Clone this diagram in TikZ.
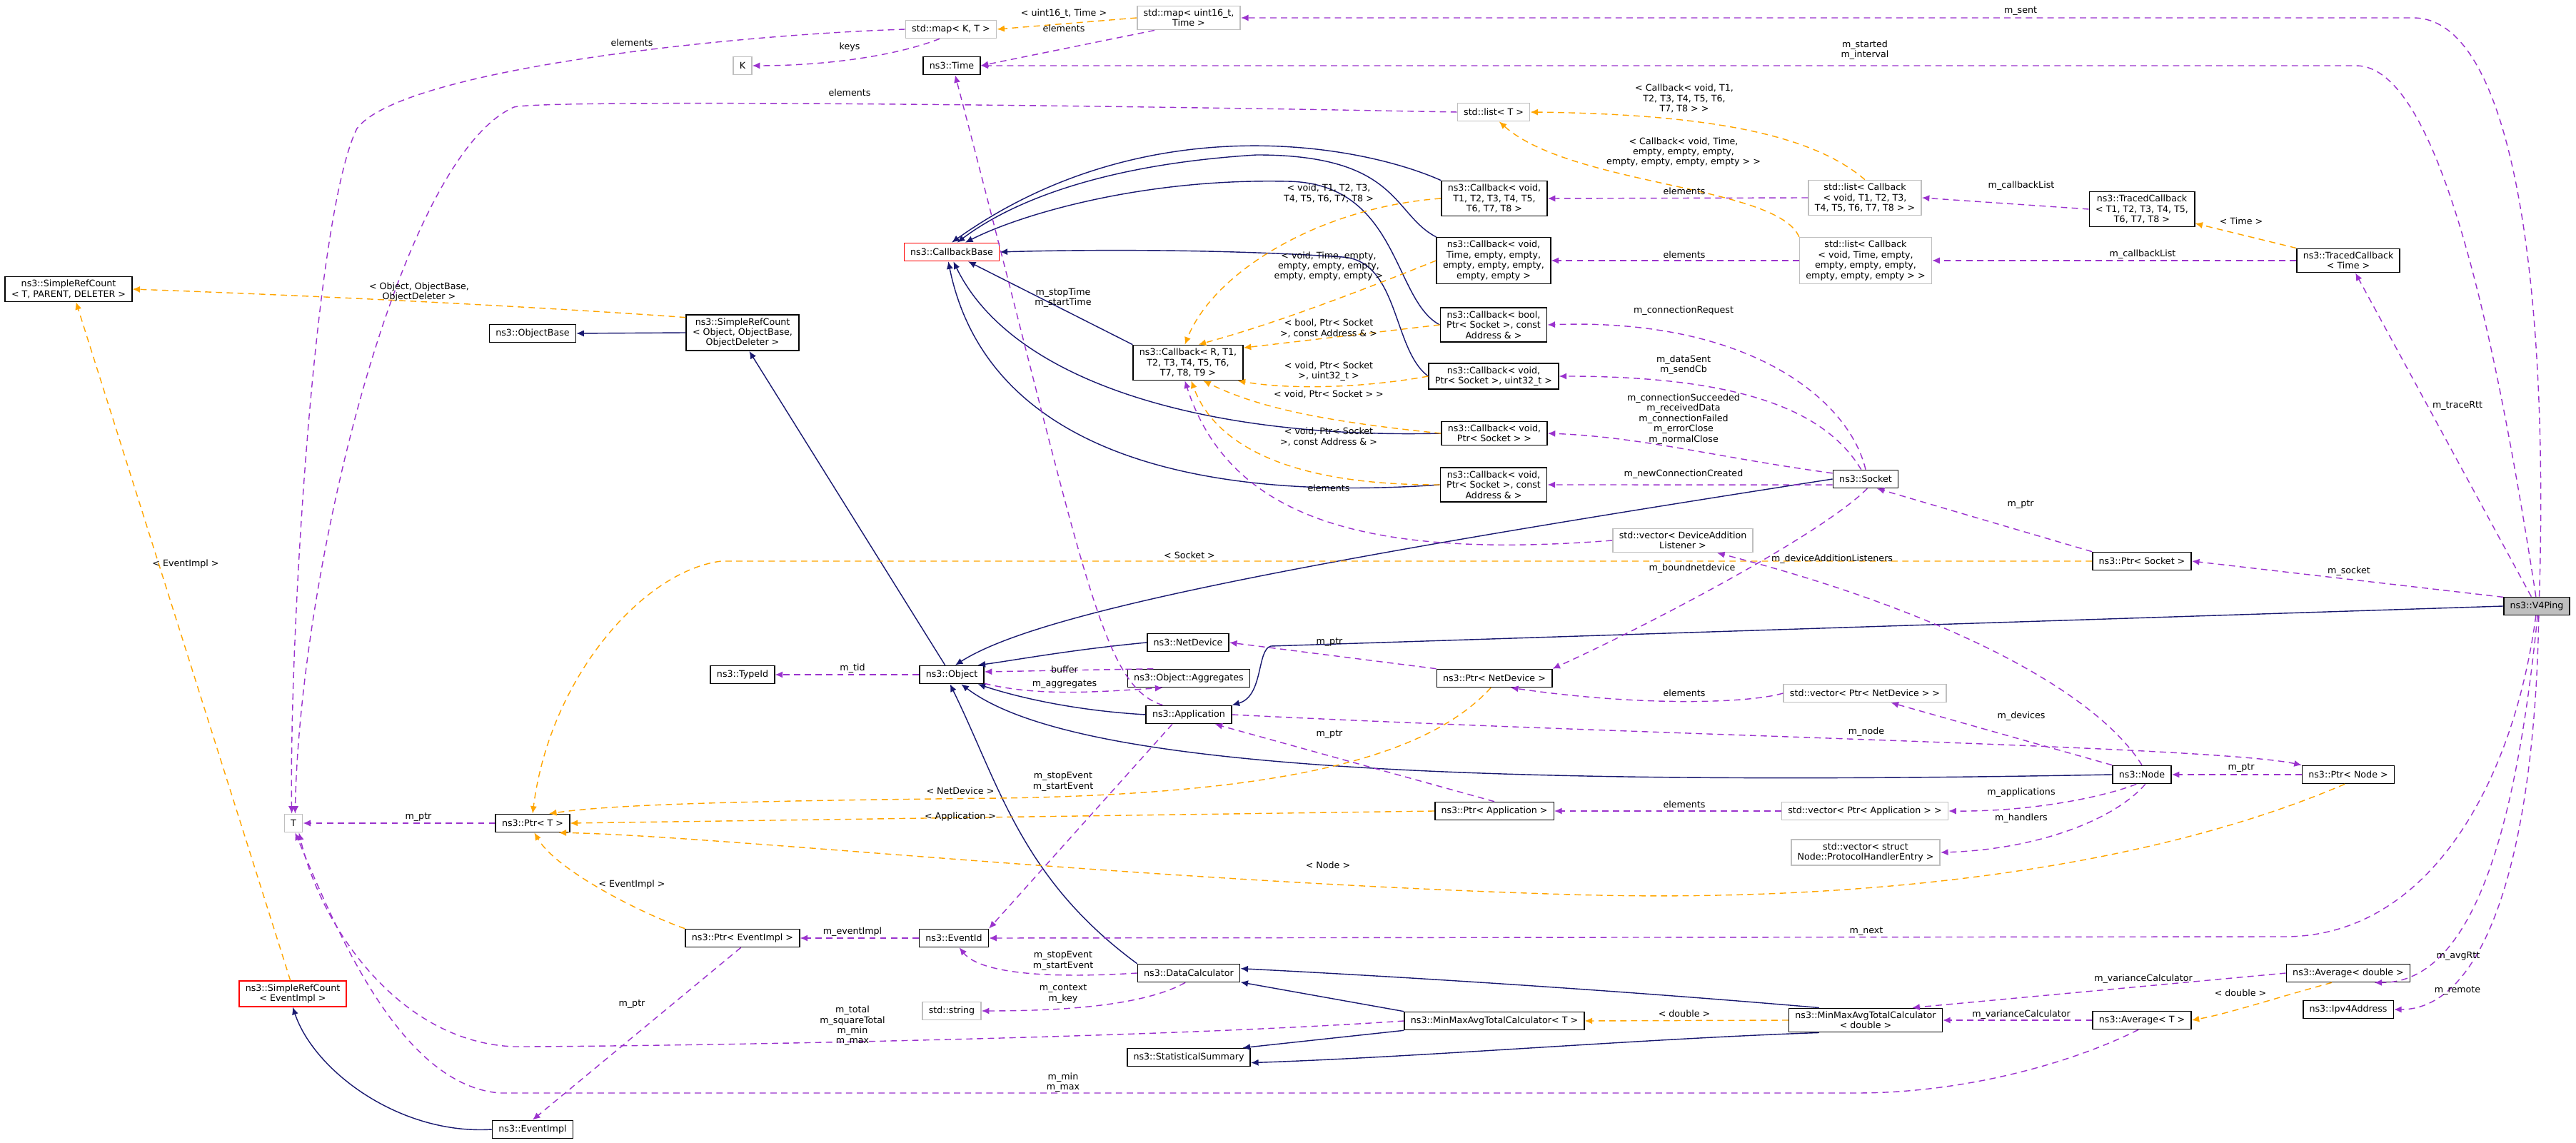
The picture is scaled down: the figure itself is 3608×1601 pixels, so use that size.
\documentclass[tikz,border=0pt]{standalone}
\usepackage{fontspec}
\setmainfont{DejaVu Sans}
\usepackage{tikz}
\usetikzlibrary{arrows.meta}
\definecolor{inhcol}{HTML}{191970}
\definecolor{tplcol}{HTML}{FFA500}
\definecolor{usecol}{HTML}{9A32CD}

\begin{document}
\begin{tikzpicture}[
  x=0.01cm, y=-0.01cm,
  font=\fontsize{3.6}{4.1}\selectfont,
  box/.style={draw, line width=0.45pt, align=center, inner xsep=2.5pt, inner ysep=1.3pt, minimum height=0.25cm},
  gbox/.style={box, draw=black!25},
  rbox/.style={box, draw=red},
  hbox/.style={box, fill=black!25},
  lbl/.style={align=center, inner sep=0pt},
  inh/.style={draw=inhcol, line width=0.4pt, -{Latex[length=3pt,width=2.6pt]}},
  tpl/.style={draw=tplcol, line width=0.4pt, dash pattern=on 2.5pt off 1.8pt, -{Latex[length=3pt,width=2.6pt]}},
  use/.style={draw=usecol, line width=0.4pt, dash pattern=on 2.5pt off 1.8pt, -{Latex[length=3pt,width=2.6pt]}}
]
\useasboundingbox (0,0) rectangle (3608,1601);

% --- Left column ---
\node[box] (srcTPD) at (96,405) {ns3::SimpleRefCount\\< T, PARENT, DELETER >};
\node[gbox] (T) at (411,1153) {T};
\node[rbox] (srcEv) at (410,1392) {ns3::SimpleRefCount\\< EventImpl >};
\node[box] (ptrT) at (746,1153) {ns3::Ptr< T >};
\node[box] (evimpl) at (746,1582) {ns3::EventImpl};
\node[box] (objbase) at (746,467) {ns3::ObjectBase};
\node[box] (srcObj) at (1040,466) {ns3::SimpleRefCount\\< Object, ObjectBase,\\ObjectDeleter >};
\node[gbox] (K) at (1040,92) {K};
\node[box] (tid) at (1040,945) {ns3::TypeId};
\node[box] (ptrEv) at (1040,1314) {ns3::Ptr< EventImpl >};

% --- Middle columns ---
\node[gbox] (mapKT) at (1332,41) {std::map< K, T >};
\node[box] (time) at (1333,92) {ns3::Time};
\node[rbox] (cbbase) at (1333,353) {ns3::CallbackBase};
\node[box] (object) at (1333,945) {ns3::Object};
\node[box] (eventid) at (1336,1314) {ns3::EventId};
\node[gbox] (string) at (1333,1416) {std::string};
\node[gbox] (mapU) at (1665,25) {std::map< uint16\_t,\\Time >};
\node[box] (cbR) at (1664,508) {ns3::Callback< R, T1,\\T2, T3, T4, T5, T6,\\T7, T8, T9 >};
\node[box] (netdev) at (1664,900) {ns3::NetDevice};
\node[box] (aggr) at (1665,950) {ns3::Object::Aggregates};
\node[box] (app) at (1665,1001) {ns3::Application};
\node[box] (datacalc) at (1665,1363) {ns3::DataCalculator};
\node[box] (statsum) at (1665,1481) {ns3::StatisticalSummary};

\node[gbox] (listT) at (2092,157) {std::list< T >};
\node[box] (cb1) at (2093,278) {ns3::Callback< void,\\T1, T2, T3, T4, T5,\\T6, T7, T8 >};
\node[box] (cb2) at (2092,365) {ns3::Callback< void,\\Time, empty, empty,\\empty, empty, empty,\\empty, empty >};
\node[box] (cb3) at (2092,455) {ns3::Callback< bool,\\Ptr< Socket >, const\\Address \& >};
\node[box] (cb4) at (2092,527) {ns3::Callback< void,\\Ptr< Socket >, uint32\_t >};
\node[box] (cb5) at (2093,607) {ns3::Callback< void,\\Ptr< Socket > >};
\node[box] (cb6) at (2092,679) {ns3::Callback< void,\\Ptr< Socket >, const\\Address \& >};
\node[box] (ptrNd) at (2093,950) {ns3::Ptr< NetDevice >};
\node[box] (ptrApp) at (2093,1136) {ns3::Ptr< Application >};
\node[box] (mmT) at (2093,1430) {ns3::MinMaxAvgTotalCalculator< T >};

% --- Right columns ---
\node[gbox] (listCb1) at (2612,277) {std::list< Callback\\< void, T1, T2, T3,\\T4, T5, T6, T7, T8 > >};
\node[gbox] (listCb2) at (2613,365) {std::list< Callback\\< void, Time, empty,\\empty, empty, empty,\\empty, empty, empty > >};
\node[box] (socket) at (2613,671) {ns3::Socket};
\node[gbox] (vecDAL) at (2357,757) {std::vector< DeviceAddition\\Listener >};
\node[gbox] (vecNd) at (2612,971) {std::vector< Ptr< NetDevice > >};
\node[gbox] (vecApp) at (2612,1136) {std::vector< Ptr< Application > >};
\node[gbox] (vecPHE) at (2613,1194) {std::vector< struct\\Node::ProtocolHandlerEntry >};
\node[box] (mmD) at (2613,1429) {ns3::MinMaxAvgTotalCalculator\\< double >};
\node[box] (tcbT) at (3000,293) {ns3::TracedCallback\\< T1, T2, T3, T4, T5,\\T6, T7, T8 >};
\node[box] (ptrSocket) at (3000,786) {ns3::Ptr< Socket >};
\node[box] (node) at (3000,1085) {ns3::Node};
\node[box] (avgT) at (3000,1429) {ns3::Average< T >};
\node[box] (tcbTime) at (3289,365) {ns3::TracedCallback\\< Time >};
\node[box] (ptrNode) at (3289,1085) {ns3::Ptr< Node >};
\node[box] (avgD) at (3289,1363) {ns3::Average< double >};
\node[box] (ipv4) at (3289,1414) {ns3::Ipv4Address};
\node[hbox] (v4ping) at (3553,849) {ns3::V4Ping};

% --- Inheritance ---
\draw[inh] (srcObj.west) -- (objbase.east);
\draw[inh] (object.125) -- (srcObj.290);
\draw[inh] (netdev.west) .. controls (1500,910) and (1420,925) .. (object.20);
\draw[inh] (app.west) .. controls (1500,995) and (1420,975) .. (object.-20);
\draw[inh] (socket.west) .. controls (1800,790) and (1450,860) .. (object.70);
\draw[inh] (node.west) .. controls (1900,1105) and (1480,1060) .. (object.-45);
\draw[inh] (datacalc.north west) .. controls (1430,1230) and (1400,1100) .. (object.-100);
\draw[inh] (v4ping.west) -- (1780,905) .. controls (1760,910) and (1770,975) .. (app.north east);
\draw[inh] (cbR.north west) -- (cbbase.-30);
\draw[inh] (cb1.north west) .. controls (1900,200) and (1600,150) .. (cbbase.north);
\draw[inh] (cb2.north west) .. controls (1950,300) and (1960,217) .. (1760,217) .. controls (1550,230) and (1420,280) .. (cbbase.60);
\draw[inh] (cb3.west) .. controls (1950,420) and (1960,254) .. (1800,254) .. controls (1600,250) and (1430,300) .. (cbbase.35);
\draw[inh] (cb4.west) .. controls (1950,490) and (1960,365) .. (1880,360) .. controls (1700,348) and (1500,350) .. (cbbase.east);
\draw[inh] (cb5.west) .. controls (1700,615) and (1420,540) .. (cbbase.-80);
\draw[inh] (cb6.west) .. controls (1650,705) and (1380,620) .. (cbbase.-110);
\draw[inh] (evimpl.west) .. controls (560,1590) and (440,1500) .. (srcEv.south);
\draw[inh] (mmT.north west) -- (datacalc.-10);
\draw[inh] (mmT.south west) -- (statsum.10);
\draw[inh] (mmD.165) .. controls (2300,1390) and (2000,1370) .. (datacalc.5);
\draw[inh] (mmD.195) .. controls (2300,1455) and (2000,1480) .. (statsum.-5);

% --- Template instances ---
\draw[tpl] (srcObj.165) .. controls (900,440) and (600,420) .. (srcTPD.east);
\draw[tpl] (srcEv.100) -- (srcTPD.-60);
\draw[tpl] (mapU.west) -- (mapKT.east);
\draw[tpl] (listCb1.north) .. controls (2540,190) and (2400,160) .. (listT.east);
\draw[tpl] (listCb2.north west) .. controls (2490,260) and (2200,260) .. (listT.-60);
\draw[tpl] (cb1.west) .. controls (1850,290) and (1700,380) .. (cbR.100);
\draw[tpl] (cb2.west) .. controls (1850,430) and (1760,460) .. (cbR.60);
\draw[tpl] (cb3.west) -- (cbR.15);
\draw[tpl] (cb4.west) .. controls (1900,545) and (1800,545) .. (cbR.-20);
\draw[tpl] (cb5.west) .. controls (1850,590) and (1760,570) .. (cbR.-50);
\draw[tpl] (cb6.west) .. controls (1800,680) and (1700,620) .. (cbR.-80);
\draw[tpl] (tcbTime.north west) -- (tcbT.-15);
\draw[tpl] (ptrSocket.west) -- (1010,786) .. controls (900,800) and (770,950) .. (ptrT.north);
\draw[tpl] (ptrNd.-110) .. controls (2000,1060) and (1800,1112) .. (1400,1118) .. controls (1000,1122) and (850,1128) .. (ptrT.30);
\draw[tpl] (ptrApp.west) -- (ptrT.east);
\draw[tpl] (ptrNode.-110) .. controls (3000,1220) and (2600,1265) .. (2200,1253) .. controls (1600,1235) and (1000,1170) .. (ptrT.-20);
\draw[tpl] (ptrEv.north west) .. controls (900,1280) and (780,1220) .. (ptrT.-80);
\draw[tpl] (mmD.west) -- (mmT.east);
\draw[tpl] (avgD.-150) .. controls (3180,1400) and (3120,1420) .. (avgT.east);

% --- Usage ---
\draw[use] (mapKT.west) .. controls (1000,50) and (560,100) .. (500,180) .. controls (440,300) and (405,900) .. (T.100);
\draw[use] (mapKT.-140) .. controls (1250,80) and (1150,92) .. (K.east);
\draw[use] (mapU.-160) -- (time.east);
\draw[use] (listT.west) .. controls (1400,145) and (760,140) .. (720,150) .. controls (560,220) and (420,800) .. (T.80);
\draw[use] (v4ping.75) .. controls (3570,400) and (3520,25) .. (3380,25) -- (mapU.east);
\draw[use] (v4ping.95) .. controls (3500,500) and (3420,92) .. (3300,92) -- (time.east);
\draw[use] (listCb1.west) -- (cb1.east);
\draw[use] (listCb2.west) -- (cb2.east);
\draw[use] (tcbT.west) -- (listCb1.east);
\draw[use] (tcbTime.west) -- (listCb2.east);
\draw[use] (v4ping.120) -- (tcbTime.-60);
\draw[use] (socket.north) .. controls (2590,560) and (2450,445) .. (cb3.east);
\draw[use] (socket.115) .. controls (2560,580) and (2450,527) .. (cb4.east);
\draw[use] (socket.170) .. controls (2400,640) and (2300,612) .. (cb5.east);
\draw[use] (socket.190) -- (cb6.east);
\draw[use] (socket.-80) .. controls (2550,750) and (2300,880) .. (ptrNd.north east);
\draw[use] (ptrSocket.north west) -- (socket.-40);
\draw[use] (v4ping.165) -- (ptrSocket.east);
\draw[use] (vecDAL.west) .. controls (1900,785) and (1720,720) .. (cbR.-100);
\draw[use] (node.north) .. controls (2930,960) and (2700,850) .. (vecDAL.-20);
\draw[use] (object.west) -- (tid.east);
\draw[use] (aggr.165) -- (object.5);
\draw[use] (object.-15) .. controls (1450,975) and (1530,970) .. (aggr.200);
\draw[use] (app.160) .. controls (1540,960) and (1520,800) .. (time.-70);
\draw[use] (ptrNd.north west) -- (netdev.east);
\draw[use] (vecNd.west) .. controls (2450,985) and (2300,990) .. (ptrNd.-30);
\draw[use] (node.north west) -- (vecNd.-20);
\draw[use] (app.east) .. controls (2300,1030) and (3100,1045) .. (ptrNode.north west);
\draw[use] (ptrNode.west) -- (node.east);
\draw[use] (ptrApp.north) -- (app.-20);
\draw[use] (vecApp.west) -- (ptrApp.east);
\draw[use] (node.-120) .. controls (2950,1115) and (2850,1137) .. (vecApp.east);
\draw[use] (node.-70) .. controls (2960,1150) and (2850,1190) .. (vecPHE.east);
\draw[use] (app.-150) -- (eventid.north east);
\draw[use] (datacalc.west) .. controls (1450,1372) and (1370,1360) .. (eventid.-60);
\draw[use] (datacalc.-110) .. controls (1600,1410) and (1480,1416) .. (string.east);
\draw[use] (v4ping.-95) .. controls (3520,1100) and (3400,1312) .. (3200,1312) -- (eventid.east);
\draw[use] (eventid.west) -- (ptrEv.east);
\draw[use] (ptrEv.-100) -- (evimpl.north);
\draw[use] (ptrT.west) -- (T.east);
\draw[use] (mmT.west) .. controls (1600,1455) and (900,1466) .. (720,1466) .. controls (560,1460) and (450,1300) .. (T.-60);
\draw[use] (avgT.-110) .. controls (2900,1490) and (2750,1531) .. (2600,1531) -- (700,1531) .. controls (560,1520) and (470,1300) .. (T.-80);
\draw[use] (avgD.west) -- (mmD.15);
\draw[use] (avgT.west) -- (mmD.east);
\draw[use] (v4ping.-85) .. controls (3530,1100) and (3480,1377) .. (avgD.-20);
\draw[use] (v4ping.-78) .. controls (3550,1200) and (3480,1414) .. (ipv4.east);

% --- Edge labels ---
\node[lbl] (lObj) at (587,409) {< Object, ObjectBase,\\ObjectDeleter >};
\node[lbl] (lEv1) at (260,790) {< EventImpl >};
\node[lbl] (lEl1) at (885,60) {elements};
\node[lbl] (lKeys) at (1190,66) {keys};
\node[lbl] (lEl2) at (1190,130) {elements};
\node[lbl] (lU16) at (1490,19) {< uint16\_t, Time >};
\node[lbl] (lEl3) at (1490,40) {elements};
\node[lbl] (lSent) at (2830,16) {m\_sent};
\node[lbl] (lStart) at (2612,70) {m\_started\\m\_interval};
\node[lbl] (lLcb1) at (2359,138) {< Callback< void, T1,\\T2, T3, T4, T5, T6,\\T7, T8 > >};
\node[lbl] (lLcb2) at (2358,213) {< Callback< void, Time,\\empty, empty, empty,\\empty, empty, empty, empty > >};
\node[lbl] (lEl4) at (2359,268) {elements};
\node[lbl] (lEl5) at (2359,357) {elements};
\node[lbl] (lCbl1) at (2831,260) {m\_callbackList};
\node[lbl] (lTime) at (3139,310) {< Time >};
\node[lbl] (lCbl2) at (3001,356) {m\_callbackList};
\node[lbl] (lRtt) at (3442,568) {m\_traceRtt};
\node[lbl] (lT1) at (1861,271) {< void, T1, T2, T3,\\T4, T5, T6, T7, T8 >};
\node[lbl] (lT2) at (1861,373) {< void, Time, empty,\\empty, empty, empty,\\empty, empty, empty >};
\node[lbl] (lStopT) at (1489,417) {m\_stopTime\\m\_startTime};
\node[lbl] (lT3) at (1861,460) {< bool, Ptr< Socket\\>, const Address \& >};
\node[lbl] (lT4) at (1861,520) {< void, Ptr< Socket\\>, uint32\_t >};
\node[lbl] (lT5) at (1861,552) {< void, Ptr< Socket > >};
\node[lbl] (lT6) at (1861,612) {< void, Ptr< Socket\\>, const Address \& >};
\node[lbl] (lEl6) at (1861,684) {elements};
\node[lbl] (lReq) at (2358,435) {m\_connectionRequest};
\node[lbl] (lSentCb) at (2358,511) {m\_dataSent\\m\_sendCb};
\node[lbl] (lConn) at (2358,587) {m\_connectionSucceeded\\m\_receivedData\\m\_connectionFailed\\m\_errorClose\\m\_normalClose};
\node[lbl] (lNew) at (2358,664) {m\_newConnectionCreated};
\node[lbl] (lPtrS) at (2830,707) {m\_ptr};
\node[lbl] (lSocket) at (3290,800) {m\_socket};
\node[lbl] (lSockT) at (1666,778) {< Socket >};
\node[lbl] (lDal) at (2566,783) {m\_deviceAdditionListeners};
\node[lbl] (lBound) at (2370,796) {m\_boundnetdevice};
\node[lbl] (lTid) at (1194,936) {m\_tid};
\node[lbl] (lBuf) at (1491,938) {buffer};
\node[lbl] (lAggr) at (1491,959) {m\_aggregates};
\node[lbl] (lPtrN) at (1862,900) {m\_ptr};
\node[lbl] (lEl7) at (2359,971) {elements};
\node[lbl] (lDev) at (2831,1003) {m\_devices};
\node[lbl] (lNode) at (2614,1025) {m\_node};
\node[lbl] (lPtrA) at (1862,1029) {m\_ptr};
\node[lbl] (lPtrNo) at (3139,1076) {m\_ptr};
\node[lbl] (lStopE1) at (1489,1095) {m\_stopEvent\\m\_startEvent};
\node[lbl] (lNdT) at (1345,1108) {< NetDevice >};
\node[lbl] (lApps) at (2831,1110) {m\_applications};
\node[lbl] (lEl8) at (2359,1127) {elements};
\node[lbl] (lAppT) at (1345,1144) {< Application >};
\node[lbl] (lHand) at (2831,1146) {m\_handlers};
\node[lbl] (lPtrT) at (586,1145) {m\_ptr};
\node[lbl] (lNodeT) at (1860,1212) {< Node >};
\node[lbl] (lEv2) at (885,1239) {< EventImpl >};
\node[lbl] (lEvI) at (1194,1305) {m\_eventImpl};
\node[lbl] (lNext) at (2614,1305) {m\_next};
\node[lbl] (lAvg) at (3443,1339) {m\_avgRtt};
\node[lbl] (lStopE2) at (1489,1346) {m\_stopEvent\\m\_startEvent};
\node[lbl] (lVar1) at (3002,1371) {m\_varianceCalculator};
\node[lbl] (lRem) at (3442,1388) {m\_remote};
\node[lbl] (lDbl2) at (3138,1391) {< double >};
\node[lbl] (lCtx) at (1489,1392) {m\_context\\m\_key};
\node[lbl] (lPtrE) at (885,1407) {m\_ptr};
\node[lbl] (lDbl1) at (2359,1420) {< double >};
\node[lbl] (lVar2) at (2831,1421) {m\_varianceCalculator};
\node[lbl] (lTot) at (1194,1437) {m\_total\\m\_squareTotal\\m\_min\\m\_max};
\node[lbl] (lMin) at (1489,1516) {m\_min\\m\_max};
\end{tikzpicture}
\end{document}
